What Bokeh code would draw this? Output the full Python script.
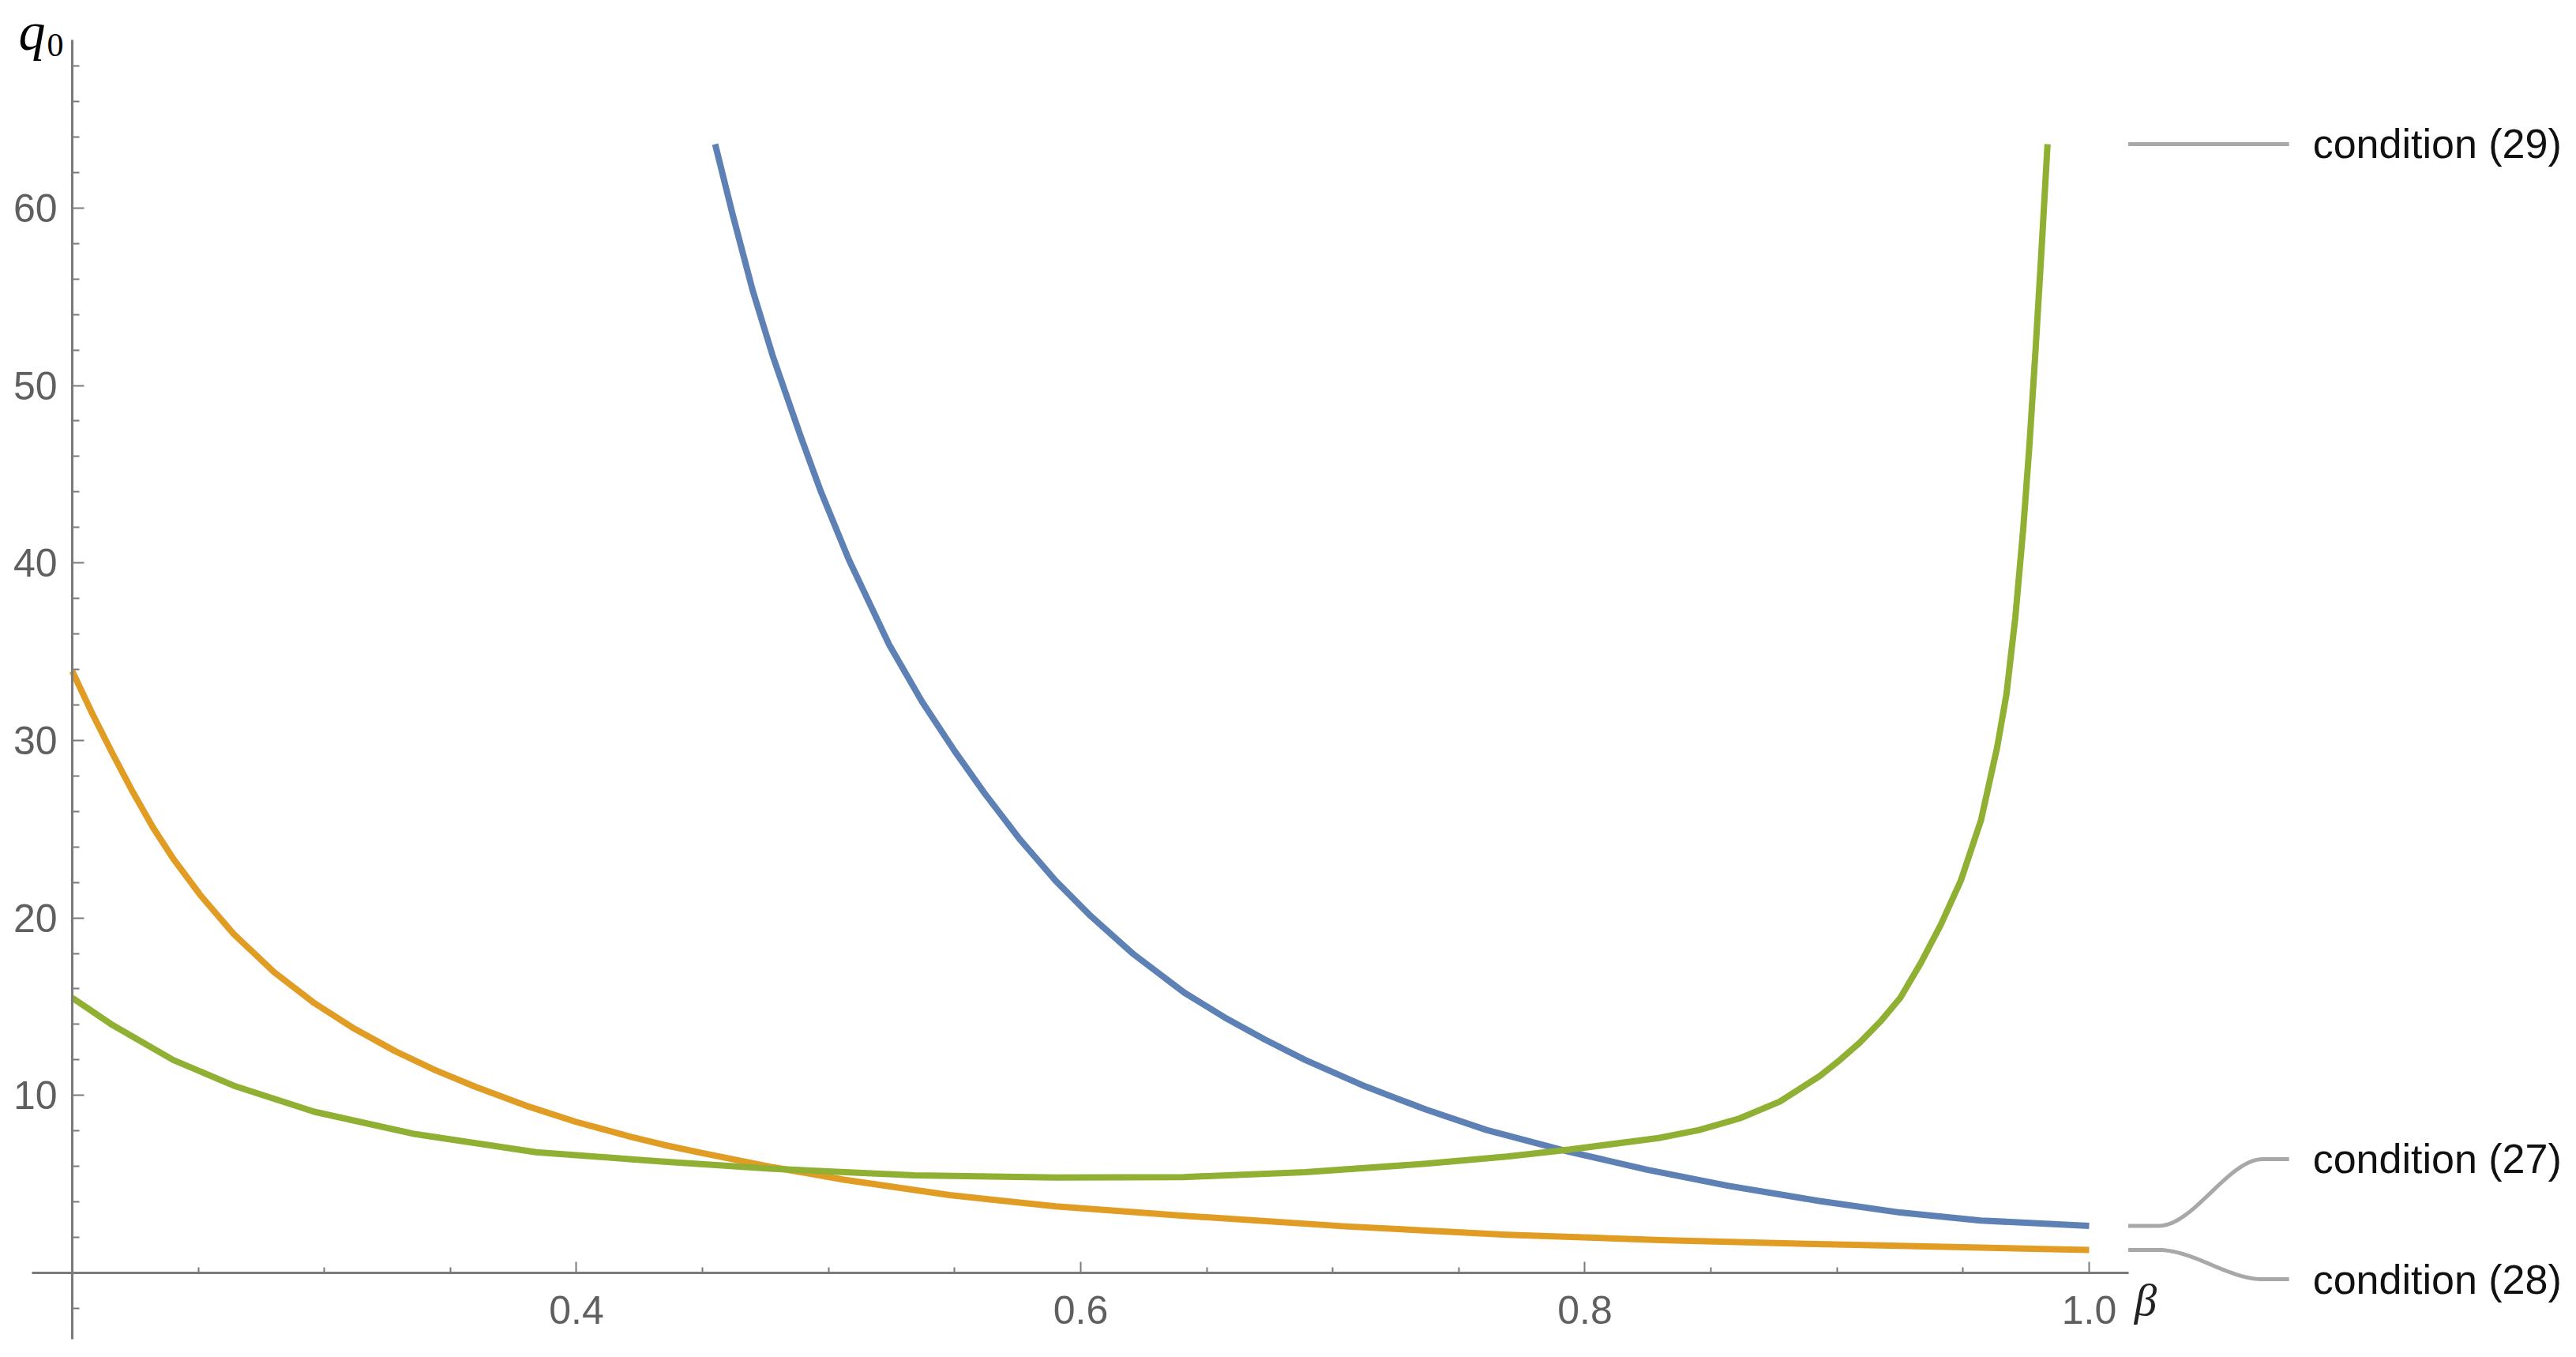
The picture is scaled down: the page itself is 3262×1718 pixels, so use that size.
import numpy as np
from bokeh.plotting import figure
from bokeh.models import Range1d, FixedTicker, Label
from bokeh.embed import file_html
from bokeh.resources import INLINE
from bokeh.core.properties import value

# ---------------- data ----------------
beta_27 = [0.455, 0.462, 0.470, 0.478, 0.489, 0.497, 0.508, 0.524, 0.537, 0.550,
           0.562, 0.576, 0.590, 0.604, 0.621, 0.641, 0.657, 0.673, 0.689, 0.713,
           0.737, 0.761, 0.793, 0.825, 0.857, 0.893, 0.925, 0.957, 1.000]
q_27 = [63.6, 59.6, 55.3, 51.6, 47.1, 44.0, 40.2, 35.4, 32.2, 29.4,
        27.0, 24.4, 22.1, 20.1, 17.95, 15.8, 14.4, 13.15, 12.0, 10.5,
        9.2, 8.05, 6.85, 5.8, 4.9, 4.05, 3.4, 2.95, 2.65]

beta_28 = [0.200, 0.208, 0.216, 0.224, 0.232, 0.240, 0.251, 0.264, 0.280, 0.296,
           0.312, 0.328, 0.344, 0.360, 0.380, 0.400, 0.422, 0.435, 0.450, 0.478,
           0.506, 0.548, 0.590, 0.641, 0.705, 0.769, 0.830, 0.892, 0.957, 1.000]
q_28 = [33.9, 31.5, 29.25, 27.1, 25.1, 23.35, 21.25, 19.1, 16.95, 15.2,
        13.75, 12.5, 11.42, 10.48, 9.42, 8.5, 7.65, 7.2, 6.75, 5.95,
        5.25, 4.38, 3.75, 3.22, 2.62, 2.15, 1.85, 1.62, 1.42, 1.29]

beta_29 = [0.200, 0.216, 0.240, 0.264, 0.296, 0.336, 0.384, 0.422, 0.435, 0.478,
           0.534, 0.590, 0.641, 0.689, 0.737, 0.769, 0.793, 0.8293, 0.8453, 0.8613,
           0.8773, 0.8932, 0.9012, 0.9092, 0.9172, 0.9251, 0.9332, 0.9411, 0.9491, 0.9571,
           0.9635, 0.9672, 0.9707, 0.9739, 0.9763, 0.9787, 0.9811, 0.9835]
q_29 = [15.5, 13.96, 12.0, 10.55, 9.08, 7.82, 6.8, 6.4, 6.26, 5.86,
        5.5, 5.37, 5.40, 5.67, 6.15, 6.55, 6.93, 7.6, 8.05, 8.7,
        9.65, 11.1, 12.0, 13.0, 14.16, 15.5, 17.45, 19.6, 22.1, 25.5,
        29.6, 32.6, 36.9, 42.0, 46.6, 51.9, 57.6, 63.6]

legend_labels = ["condition (27)", "condition (28)", "condition (29)"]

x_ticks = [0.4, 0.6, 0.8, 1.0]
x_tick_labels = ["0.4", "0.6", "0.8", "1.0"]
x_minor = [0.25, 0.3, 0.35, 0.45, 0.5, 0.55, 0.65, 0.7, 0.75, 0.85, 0.9, 0.95]
y_ticks = [10, 20, 30, 40, 50, 60]
y_tick_labels = ["10", "20", "30", "40", "50", "60"]
y_minor = [-2, 2, 4, 6, 8, 12, 14, 16, 18, 22, 24, 26, 28, 32, 34, 36, 38,
           42, 44, 46, 48, 52, 54, 56, 58, 62, 64, 66, 68]

# ---------------- styling / layout ----------------
C27, C28, C29 = "#5E81B5", "#E19C24", "#8FB032"
AX = "#7a7a7a"
LBL = "#5f5f5f"
CONN = "#a8a8a8"

X_ORIGIN, Y_ORIGIN = 0.2, 0.0

p = figure(width=3256, height=1712,
           x_range=Range1d(0.171496, 1.191390), y_range=Range1d(-4.495, 71.696),
           output_backend="svg", toolbar_location=None, min_border=0)
p.title.visible = False
p.outline_line_color = None
p.xgrid.visible = False
p.ygrid.visible = False
p.background_fill_color = "white"
p.border_fill_color = "white"

xa = p.xaxis[0]
xa.fixed_location = Y_ORIGIN
xa.bounds = (0.18403, 1.01566)
xa.ticker = FixedTicker(ticks=x_ticks, minor_ticks=x_minor)
xa.major_label_overrides = dict(zip(x_ticks, x_tick_labels))

ya = p.yaxis[0]
ya.fixed_location = X_ORIGIN
ya.bounds = (-3.74, 69.47)
ya.ticker = FixedTicker(ticks=y_ticks, minor_ticks=y_minor)
ya.major_label_overrides = dict(zip(y_ticks, y_tick_labels))

for ax, mj, mn, sd in ((xa, 14, 7, 30), (ya, 15, 9, 19)):
    ax.axis_line_color = AX
    ax.axis_line_width = 3
    ax.major_tick_line_color = AX
    ax.minor_tick_line_color = AX
    ax.major_tick_line_width = 2
    ax.minor_tick_line_width = 2
    ax.major_tick_in = mj
    ax.major_tick_out = 0
    ax.minor_tick_in = mn
    ax.minor_tick_out = 0
    ax.major_label_text_font = "Liberation Sans"
    ax.major_label_text_font_size = "50px"
    ax.major_label_text_color = LBL
    ax.major_label_standoff = sd

# curves
for bx, qy, col in ((beta_27, q_27, C27), (beta_28, q_28, C28), (beta_29, q_29, C29)):
    p.line(bx, qy, line_color=col, line_width=8, line_join="round")

# callout connectors from curve ends to labels
def connector(x_end_curve, y0, y1):
    xs0 = x_end_curve + 0.0155
    xb0 = x_end_curve + 0.0276
    xb1 = x_end_curve + 0.0690
    xe = x_end_curve + 0.0793
    t = np.linspace(0, 1, 40)
    s = t * t * (3 - 2 * t)
    xs = [xs0] + list(xb0 + (xb1 - xb0) * t) + [xe]
    ys = [y0] + list(y0 + (y1 - y0) * s) + [y1]
    return xs, ys

label_y = {"27": 6.41, "28": -0.36, "29": q_29[-1]}
end_x = max(beta_27[-1], beta_28[-1])

for by, key in ((q_27[-1], "27"), (q_28[-1], "28"), (q_29[-1], "29")):
    xs, ys = connector(end_x, by, label_y[key])
    p.line(xs, ys, line_color=CONN, line_width=5, line_join="round")

text_x = end_x + 0.0887
p.text(x=[text_x] * 3, y=[label_y["27"], label_y["28"], label_y["29"]],
       text=legend_labels, text_font=value("Liberation Sans"),
       text_font_size=value("52px"), text_color="#111111",
       text_baseline="middle", text_align="left")

# axis titles
p.add_layout(Label(x=0.1787, y=71.62, text="q", text_font="Liberation Serif",
                   text_font_style="italic", text_font_size="68px",
                   text_color="#000000", text_baseline="top", text_align="left"))
p.add_layout(Label(x=0.1900, y=69.2, text="0", text_font="Liberation Serif",
                   text_font_size="42px", text_color="#000000",
                   text_baseline="alphabetic", text_align="left"))
p.add_layout(Label(x=1.0179, y=-1.51, text="β", text_font="Liberation Serif",
                   text_font_style="italic", text_font_size="57px",
                   text_color="#222222", text_baseline="alphabetic", text_align="left"))

open("out.html", "w").write(file_html(p, INLINE))
